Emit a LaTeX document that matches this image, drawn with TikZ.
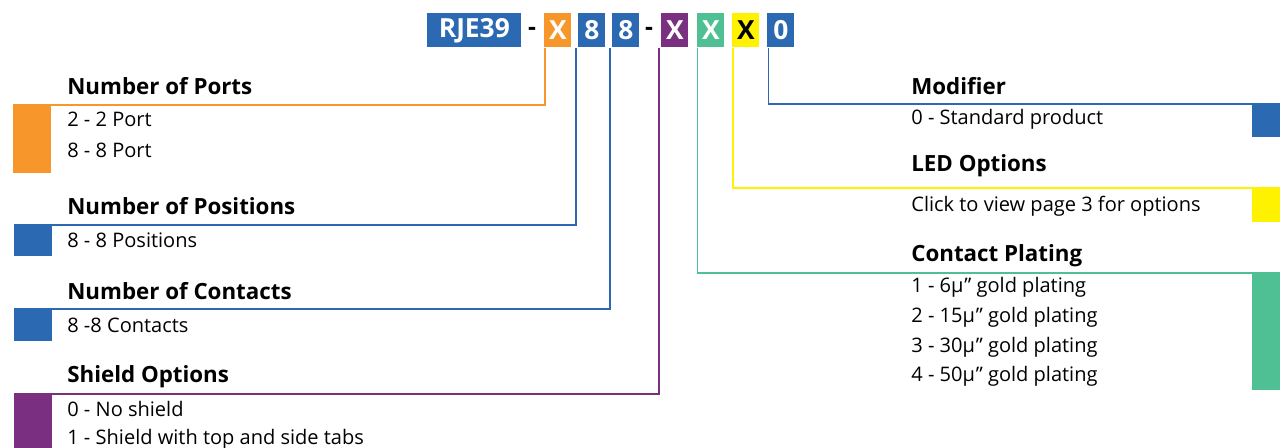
\documentclass[tikz,border=0pt]{standalone}
\usepackage{fontspec}
\setmainfont{Open Sans}
\usetikzlibrary{positioning}
\definecolor{codeorange}{HTML}{F7962B}
\definecolor{codeblue}{HTML}{2B6AB3}
\definecolor{codepurple}{HTML}{7B2F80}
\definecolor{codegreen}{HTML}{4FBF94}
\definecolor{codeyellow}{HTML}{FFF200}
\tikzset{
  code/.style={anchor=north west,inner sep=0pt,minimum width=0.54cm,minimum height=0.68cm,
    text=white,font=\bfseries\fontsize{15}{15}\selectfont},
  tag/.style={anchor=north west,inner sep=0pt,minimum width=0.76cm},
  rtag/.style={anchor=north east,inner sep=0pt,minimum width=0.56cm},
  lead/.style={line width=1.1pt},
  head/.style={anchor=base west,inner sep=0pt,font=\bfseries\fontsize{12.7}{14}\selectfont},
  item/.style={anchor=base west,inner sep=0pt,font=\fontsize{11.4}{12}\selectfont},
}
\begin{document}
\begin{tikzpicture}[x=0.02cm,y=-0.02cm]
  \useasboundingbox (0,0) rectangle (1280,448);
  % part number
  \node[code,fill=codeblue,minimum width=1.88cm] (rje) at (427,13) {RJE39};
  \node[font=\bfseries\fontsize{14}{14}\selectfont] (dashA) at (532,31) {-};
  \node[code,fill=codeorange] (ports) at (544,13) {X};
  \node[code,fill=codeblue] (posn) at (578,13) {8};
  \node[code,fill=codeblue] (cont) at (612,13) {8};
  \node[font=\bfseries\fontsize{14}{14}\selectfont] (dashB) at (649,31) {-};
  \node[code,fill=codepurple] (shld) at (661,13) {X};
  \node[code,fill=codegreen] (plat) at (697,13) {X};
  \node[code,fill=codeyellow,text=black] (led) at (732,13) {X};
  \node[code,fill=codeblue] (modf) at (767,13) {0};

  % left side tags
  \node[tag,fill=codeorange,minimum height=1.36cm] (portsblk) at (13,105) {};
  \node[tag,fill=codeblue,minimum height=0.62cm] (posnblk) at (14,225) {};
  \node[tag,fill=codeblue,minimum height=0.64cm] (contblk) at (14,309) {};
  \node[tag,fill=codepurple,minimum height=1.1cm] (shldblk) at (14,394) {};
  % right side tags
  \node[rtag,fill=codeblue,minimum height=0.66cm] (modfblk) at (1280,104) {};
  \node[rtag,fill=codeyellow,minimum height=0.68cm] (ledblk) at (1280,188) {};
  \node[rtag,fill=codegreen,minimum height=2.34cm] (platblk) at (1280,273) {};

  % leads
  \draw[lead,codeorange] ([xshift=0.02cm]ports.south west) |- (portsblk.north west);
  \draw[lead,codeblue] ([xshift=-0.04cm]posn.south west) |- (posnblk.north west);
  \draw[lead,codeblue] ([xshift=-0.04cm]cont.south west) |- (contblk.north west);
  \draw[lead,codepurple] ([xshift=-0.04cm]shld.south west) |- (shldblk.north west);
  \draw[lead,codegreen] ([xshift=0.01cm]plat.south west) |- (platblk.north east);
  \draw[lead,codeyellow] ([xshift=0.02cm]led.south west) |- (ledblk.north east);
  \draw[lead,codeblue] ([xshift=0.03cm]modf.south west) |- (modfblk.north east);

  % left texts
  \node[head] (portshd) at (67,95) {Number of Ports};
  \node[item] (portsa) at (67,127) {2 - 2 Port};
  \node[item] (portsb) at (67,158) {8 - 8 Port};
  \node[head] (posnhd) at (67,215) {Number of Positions};
  \node[item] (posna) at (67,248) {8 - 8 Positions};
  \node[head] (conthd) at (67,300) {Number of Contacts};
  \node[item] (conta) at (67,333) {8 -8 Contacts};
  \node[head] (shldhd) at (67,383) {Shield Options};
  \node[item] (shlda) at (67,417) {0 - No shield};
  \node[item] (shldb) at (67,445) {1 - Shield with top and side tabs};
  % right texts
  \node[head] (modfhd) at (911,95) {Modifier};
  \node[item] (modfa) at (911,125) {0 - Standard product};
  \node[head] (ledhd) at (911,172) {LED Options};
  \node[item] (leda) at (911,212) {Click to view page 3 for options};
  \node[head] (plathd) at (911,262) {Contact Plating};
  \node[item] (plata) at (911,293) {1 - 6µ\kern.5pt” gold plating};
  \node[item] (platb) at (911,323) {2 - 15µ\kern.5pt” gold plating};
  \node[item] (platc) at (911,353) {3 - 30µ\kern.5pt” gold plating};
  \node[item] (platd) at (911,382) {4 - 50µ\kern.5pt” gold plating};
\end{tikzpicture}
\end{document}
